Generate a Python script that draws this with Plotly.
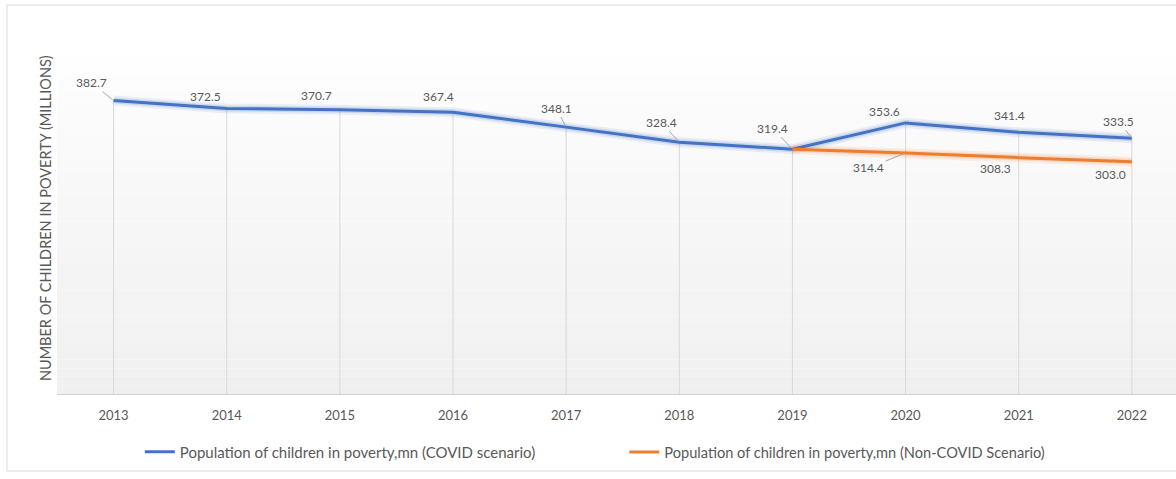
import plotly.graph_objects as go

# ---- data ----
years = [2013, 2014, 2015, 2016, 2017, 2018, 2019, 2020, 2021, 2022]
covid_scenario = [382.7, 372.5, 370.7, 367.4, 348.1, 328.4, 319.4, 353.6, 341.4, 333.5]
non_covid_years = [2019, 2020, 2021, 2022]
non_covid_scenario = [319.4, 314.4, 308.3, 303.0]
year_labels = [str(y) for y in years]

covid_name = "Population of children in poverty,mn (COVID scenario)"
non_covid_name = "Population of children in poverty,mn (Non-COVID Scenario)"
y_title = "NUMBER OF CHILDREN IN POVERTY (MILLIONS)"

BLUE = "#4472C4"
ORANGE = "#ED7D31"
TEXT = "#595959"
GRID = "#d9d9d9"
FONT = "Lato"

# label placement (pixel offsets of the label from its point, and whether a leader line is drawn)
covid_label_pos = [(-22, -18, True), (-21, -12, False), (-23, -14, False), (-15, -16, False),
                   (-10, -19, True), (-18, -20, True), (-20, -21, True), (-21, -11, False),
                   (-9, -17, False), (-13, -17, True)]
non_covid_label_pos = [None, (-37, 15, True), (-23, 11, False), (-21, 13, False)]

fig = go.Figure()

# drop lines from each point of the upper series down to the axis
fig.add_trace(go.Scatter(
    x=years, y=covid_scenario, mode="markers", showlegend=False, hoverinfo="skip",
    marker=dict(size=0.1, color="rgba(0,0,0,0)"),
    error_y=dict(type="data", symmetric=False, array=[0] * len(years),
                 arrayminus=covid_scenario, color=GRID, thickness=1, width=0)))

# soft glow under each line
for xs, ys, col in [(years, covid_scenario, "68,114,196"), (non_covid_years, non_covid_scenario, "237,125,49")]:
    fig.add_trace(go.Scatter(x=xs, y=ys, mode="lines", showlegend=False, hoverinfo="skip",
                             line=dict(color=f"rgba({col},0.10)", width=10)))
    fig.add_trace(go.Scatter(x=xs, y=ys, mode="lines", showlegend=False, hoverinfo="skip",
                             line=dict(color=f"rgba({col},0.18)", width=6)))

fig.add_trace(go.Scatter(x=years, y=covid_scenario, mode="lines", name=covid_name,
                         line=dict(color=BLUE, width=3), legend="legend"))
fig.add_trace(go.Scatter(x=non_covid_years, y=non_covid_scenario, mode="lines", name=non_covid_name,
                         line=dict(color=ORANGE, width=3), legend="legend2"))

annotations = []
for x, v, pos in list(zip(years, covid_scenario, covid_label_pos)) + \
        list(zip(non_covid_years, non_covid_scenario, non_covid_label_pos)):
    if pos is None:
        continue
    ax, ay, leader = pos
    annotations.append(dict(
        x=x, y=v, xref="x", yref="y", text=f"{v:.1f}", showarrow=True,
        ax=ax, ay=ay, arrowhead=0, arrowwidth=1, standoff=1,
        arrowcolor="#a6a6a6" if leader else "rgba(0,0,0,0)",
        font=dict(family=FONT, size=12, color=TEXT)))

annotations.append(dict(
    x=-0.0107, y=0.51, xref="paper", yref="paper", text=y_title, showarrow=False,
    xanchor="center", yanchor="middle",
    textangle=-90, font=dict(family=FONT, size=14.5, color=TEXT)))

# plot area background: white at the top fading to light grey at the bottom
shapes = []
n_bands = 40
for i in range(n_bands):
    t = i / (n_bands - 1)
    g = round(255 - (255 - 240) * (1 - t) ** 0.8)
    shapes.append(dict(type="rect", xref="paper", yref="paper", x0=0, x1=1,
                       y0=i / n_bands, y1=(i + 1) / n_bands, layer="below",
                       line=dict(width=0), fillcolor=f"rgb({g},{g},{g})"))
# outer chart frame
shapes.append(dict(type="rect", xref="paper", yref="paper", x0=-0.0447, x1=1.02,
                   y0=-0.2232, y1=1.1275, layer="below",
                   line=dict(color=GRID, width=1), fillcolor="rgba(0,0,0,0)"))

fig.update_layout(
    width=1176, height=479,
    margin=dict(l=57, r=0, t=49, b=85),
    paper_bgcolor="white", plot_bgcolor="rgba(0,0,0,0)",
    font=dict(family=FONT, size=12, color=TEXT),
    xaxis=dict(range=[2012.5, 2022.39], tickvals=years, ticktext=year_labels,
               showgrid=False, zeroline=False,
               showline=True, linecolor="#d0d0d0", linewidth=1, ticks="",
               ticklabelstandoff=9,
               tickfont=dict(family=FONT, size=13, color=TEXT), fixedrange=True),
    yaxis=dict(range=[0, 450], showticklabels=False, showgrid=False, zeroline=False,
               showline=False, ticks="", fixedrange=True),
    legend=dict(orientation="h", x=0.074, y=-0.168, xanchor="left", yanchor="middle",
                bgcolor="rgba(0,0,0,0)", font=dict(family=FONT, size=15, color=TEXT)),
    legend2=dict(orientation="h", x=0.507, y=-0.168, xanchor="left", yanchor="middle",
                 bgcolor="rgba(0,0,0,0)", font=dict(family=FONT, size=14.6, color=TEXT)),
    annotations=annotations,
    shapes=shapes,
    showlegend=True,
)

fig.write_html("out.html")
